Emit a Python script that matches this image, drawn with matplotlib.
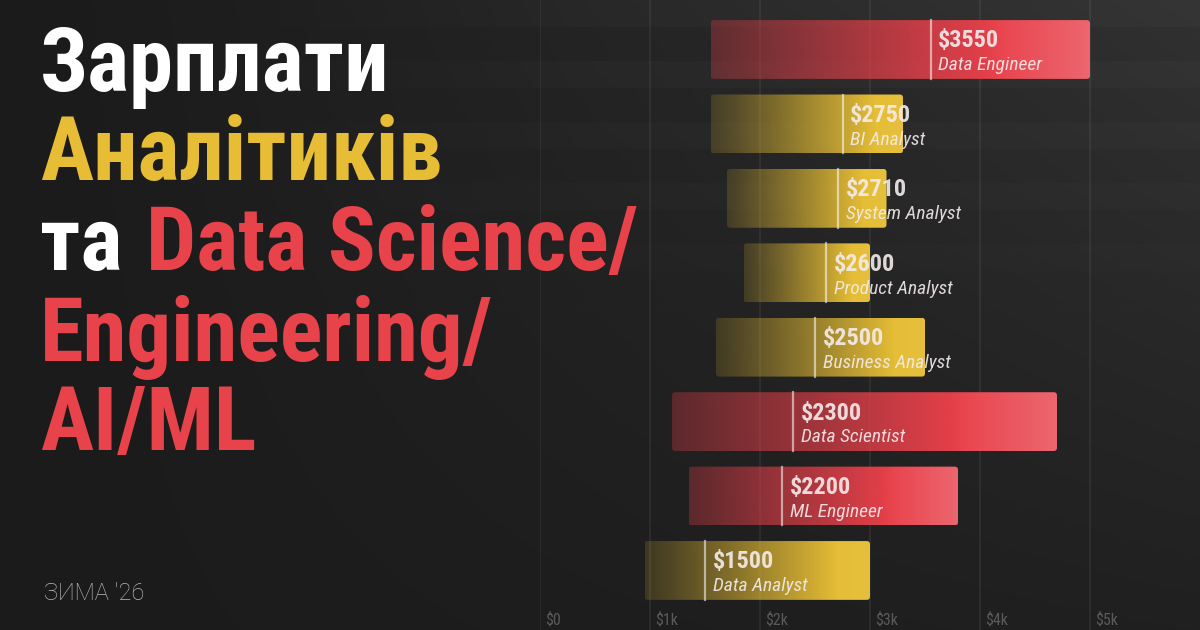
import numpy as np
import matplotlib.pyplot as plt
from matplotlib.colors import to_rgb
from matplotlib.patches import FancyBboxPatch

# salary ranges (USD / month), top row first
roles = ['Data Engineer', 'BI Analyst', 'System Analyst', 'Product Analyst',
         'Business Analyst', 'Data Scientist', 'ML Engineer', 'Data Analyst']
low = [1550, 1550, 1700, 1850, 1600, 1200, 1350, 950]
median = [3550, 2750, 2710, 2600, 2500, 2300, 2200, 1500]
high = [5000, 3300, 3150, 3000, 3500, 4700, 3800, 3000]
group = ['eng', 'an', 'an', 'an', 'an', 'eng', 'eng', 'an']

ticks = [0, 1000, 2000, 3000, 4000, 5000]
tick_labels = ['$0', '$1k', '$2k', '$3k', '$4k', '$5k']

RED = '#e8404a'
YELLOW = '#e5bd35'
FONT = ['Roboto Condensed', 'Roboto', 'DejaVu Sans']

W, H = 1200, 630
fig = plt.figure(figsize=(12, 6.3), dpi=100)

# background: dark diagonal gradient + faint stripes in the top right
yy, xx = np.mgrid[0:H, 0:W]
xn, yn = xx / W, yy / H
v = 27 + 17 * xn ** 1.3 * (1 - yn) + 5 * xn
stripes = (np.mod(yy, 61) < 27).astype(float)
mask = np.clip((xx - 250) / 350, 0, 1) * np.clip(1 - yy / 310, 0, 1) ** 0.6
v = v + 4 * stripes * mask
bg = np.dstack([v, v, v]) / 255
bax = fig.add_axes([0, 0, 1, 1], zorder=-10)
bax.imshow(bg, aspect='auto', extent=[0, 1, 0, 1])
bax.axis('off')

ax = fig.add_axes([0.45, 0, 0.55, 1])
ax.patch.set_alpha(0)
for s in ax.spines.values():
    s.set_visible(False)
ax.set_xticks([])
ax.set_yticks([])

for t, lab in zip(ticks, tick_labels):
    ax.axvline(t, color='white', alpha=0.06, lw=1.5, zorder=0)
    ax.text(t + 50, 0.0095, lab, transform=ax.get_xaxis_transform(),
            ha='left', va='baseline', fontsize=11.5, color='#5a5a5a', family=FONT)


def gradient(color, kind):
    t = np.linspace(0, 1, 256)
    rgb = np.array(to_rgb(color))
    if kind == 'eng':
        a = 0.3 + 0.7 * np.clip(t / 0.75, 0, 1)
        light = 0.2 * np.clip((t - 0.72) / 0.28, 0, 1)
    else:
        a = 0.17 + 0.83 * np.clip(t / 0.85, 0, 1) ** 1.1
        light = 0.04 * np.clip((t - 0.8) / 0.2, 0, 1)
    cols = rgb[None, :] * (1 - light[:, None]) + light[:, None]
    return np.dstack([cols[None, :, 0], cols[None, :, 1], cols[None, :, 2], a[None, :]])


h = 0.395
for i in range(len(roles)):
    c = RED if group[i] == 'eng' else YELLOW
    im = ax.imshow(gradient(c, group[i]), extent=[low[i], high[i], i + h, i - h],
                   aspect='auto', interpolation='bilinear', zorder=2)
    clip = FancyBboxPatch((low[i], i - h), high[i] - low[i], 2 * h,
                          boxstyle='round,pad=0,rounding_size=30', mutation_aspect=0.00148,
                          fc='none', ec='none', transform=ax.transData)
    ax.add_patch(clip)
    im.set_clip_path(clip)
    ax.plot([median[i], median[i]], [i - h, i + h], color='white', alpha=0.55, lw=1.6, zorder=3)
    ax.text(median[i] + 70, i - 0.027, f'${median[i]}', fontsize=17.5, fontweight='bold',
            color='#f4ecec', alpha=0.9, ha='left', va='baseline', family=FONT, zorder=4)
    ax.text(median[i] + 70, i + 0.28, roles[i], fontsize=14, style='italic',
            color='#f4ecec', alpha=0.9, ha='left', va='baseline', family=FONT, zorder=4)

ax.set_xlim(0, 6000)
ax.set_ylim(7.80, -0.665)

# title block
x0 = 40 / W
fs = 64
fig.text(x0, 1 - 91 / H, 'Зарплати', fontsize=fs, fontweight='bold', color='white',
         va='baseline', family=FONT)
fig.text(x0, 1 - 180 / H, 'Аналітиків', fontsize=fs, fontweight='bold', color='#e6bd35',
         va='baseline', family=FONT)
t3 = fig.text(x0, 1 - 270 / H, 'та', fontsize=fs, fontweight='bold', color='white',
              va='baseline', family=FONT)
fig.text(x0, 1 - 361 / H, 'Engineering/', fontsize=fs, fontweight='bold', color='#e8434b',
         va='baseline', family=FONT)
fig.text(x0, 1 - 450 / H, 'AI/ML', fontsize=fs, fontweight='bold', color='#e8434b',
         va='baseline', family=FONT)
fig.add_artist(plt.Annotation('Data Science/', xy=(1, 0), xycoords=t3,
                              xytext=(17, 0), textcoords='offset points',
                              fontsize=fs, fontweight='bold', color='#e8434b',
                              va='bottom', family=FONT))

fig.text(44 / W, 1 - 600 / H, 'ЗИМА \'26', fontsize=17, fontweight='light',
         color='#b8b8b8', va='baseline', family=['Roboto', 'DejaVu Sans'])

fig.savefig('out.png', dpi=100, facecolor='#1c1c1c')
